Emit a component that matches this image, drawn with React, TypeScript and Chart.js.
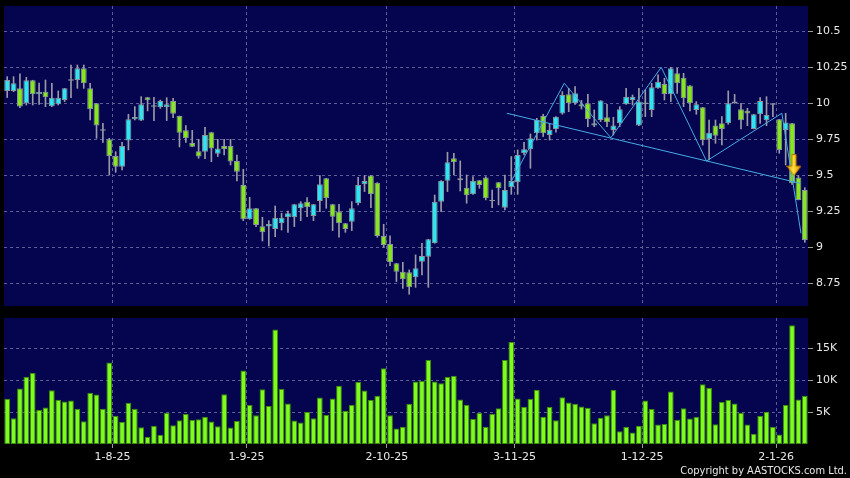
import React, { useEffect, useRef } from 'react';
import { Chart, registerables } from 'chart.js';

Chart.register(...registerables);

// ---------- data ----------
const CANDLE_OPEN = [
  10.086, 10.086, 10.104, 10.0, 10.16, 10.062, 10.081, 9.979, 9.993, 10.023,
  10.162, 10.162, 10.243, 10.104, 10.0, 9.815, 9.75, 9.634, 9.56, 9.741,
  9.889, 9.88, 10.042, 9.981, 9.972, 9.972, 10.016, 9.912, 9.812, 9.725,
  9.667, 9.664, 9.799, 9.65, 9.704, 9.704, 9.6, 9.433, 9.194, 9.271,
  9.146, 9.144, 9.127, 9.167, 9.208, 9.208, 9.271, 9.317, 9.218, 9.322,
  9.479, 9.299, 9.248, 9.167, 9.178, 9.306, 9.438, 9.498, 9.449, 9.079,
  9.023, 8.889, 8.831, 8.826, 8.792, 8.9, 8.935, 9.028, 9.317, 9.463,
  9.618, 9.465, 9.414, 9.368, 9.465, 9.484, 9.326, 9.451, 9.275, 9.417,
  9.451, 9.653, 9.681, 9.792, 9.912, 9.78, 9.822, 9.93, 10.062, 10.0,
  9.993, 10.0, 9.845, 9.884, 9.903, 9.815, 9.861, 9.993, 10.023, 9.845,
  10.0, 9.954, 10.104, 10.134, 10.062, 10.208, 10.178, 10.123, 9.954, 9.972,
  9.752, 9.845, 9.861, 9.861, 10.0, 9.958, 9.949, 9.822, 9.924, 9.882,
  9.995, 9.889, 9.815, 9.861, 9.484, 9.398,
];
const CANDLE_HIGH = [
  10.185, 10.185, 10.204, 10.18, 10.16, 10.141, 10.162, 10.139, 10.086, 10.104,
  10.266, 10.266, 10.266, 10.139, 10.0, 9.861, 9.757, 9.664, 9.729, 9.924,
  9.977, 10.046, 10.042, 10.042, 10.023, 10.039, 10.035, 9.912, 9.845, 9.812,
  9.75, 9.833, 9.799, 9.75, 9.75, 9.75, 9.641, 9.542, 9.347, 9.271,
  9.208, 9.185, 9.287, 9.236, 9.252, 9.299, 9.317, 9.345, 9.299, 9.498,
  9.479, 9.299, 9.299, 9.167, 9.317, 9.486, 9.498, 9.498, 9.449, 9.16,
  9.079, 8.889, 8.896, 8.843, 8.947, 9.028, 9.056, 9.363, 9.463, 9.66,
  9.653, 9.6, 9.502, 9.491, 9.465, 9.491, 9.398, 9.451, 9.502, 9.63,
  9.676, 9.729, 9.787, 9.896, 9.924, 9.861, 9.907, 10.081, 10.104, 10.116,
  10.02, 10.062, 9.954, 10.019, 9.993, 9.903, 9.977, 10.104, 10.058, 10.104,
  10.093, 10.139, 10.197, 10.174, 10.25, 10.243, 10.208, 10.123, 10.012, 9.972,
  9.884, 9.884, 9.907, 10.086, 10.062, 10.0, 9.965, 9.924, 10.039, 10.046,
  9.995, 9.889, 9.93, 9.861, 9.498, 9.414,
];
const CANDLE_LOW = [
  10.04, 10.081, 9.97, 9.988, 9.988, 9.993, 9.977, 9.977, 9.988, 10.012,
  10.039, 10.104, 10.104, 9.884, 9.757, 9.729, 9.502, 9.521, 9.537, 9.676,
  9.884, 9.88, 9.947, 9.88, 9.965, 9.88, 9.9, 9.697, 9.729, 9.699,
  9.618, 9.616, 9.595, 9.63, 9.641, 9.572, 9.461, 9.185, 9.194, 9.144,
  9.044, 9.009, 9.074, 9.12, 9.104, 9.144, 9.185, 9.213, 9.185, 9.248,
  9.271, 9.116, 9.07, 9.104, 9.116, 9.294, 9.387, 9.275, 9.07, 9.0,
  8.873, 8.762, 8.715, 8.674, 8.722, 8.808, 8.722, 9.028, 9.248, 9.387,
  9.502, 9.391, 9.306, 9.368, 9.41, 9.329, 9.275, 9.294, 9.259, 9.368,
  9.368, 9.641, 9.549, 9.745, 9.769, 9.745, 9.799, 9.924, 9.942, 9.993,
  9.96, 9.838, 9.838, 9.873, 9.838, 9.78, 9.838, 9.993, 9.988, 9.845,
  9.907, 9.907, 10.104, 10.023, 10.012, 10.069, 9.977, 9.947, 9.924, 9.71,
  9.606, 9.722, 9.711, 9.854, 10.0, 9.822, 9.845, 9.822, 9.861, 9.845,
  9.907, 9.653, 9.572, 9.437, 9.329, 9.035,
];
const CANDLE_CLOSE = [
  10.162, 10.139, 9.977, 10.16, 10.062, 10.081, 10.042, 10.039, 10.039, 10.104,
  10.162, 10.243, 10.139, 9.958, 9.845, 9.815, 9.634, 9.56, 9.704, 9.889,
  9.905, 9.993, 10.021, 9.981, 10.016, 9.993, 9.928, 9.796, 9.757, 9.699,
  9.63, 9.78, 9.687, 9.687, 9.681, 9.595, 9.525, 9.194, 9.271, 9.155,
  9.104, 9.162, 9.206, 9.206, 9.236, 9.299, 9.306, 9.278, 9.299, 9.438,
  9.34, 9.213, 9.167, 9.127, 9.271, 9.433, 9.461, 9.37, 9.079, 9.016,
  8.896, 8.831, 8.778, 8.722, 8.854, 8.94, 9.056, 9.317, 9.463, 9.59,
  9.59, 9.479, 9.361, 9.463, 9.433, 9.34, 9.326, 9.41, 9.398, 9.461,
  9.641, 9.681, 9.757, 9.884, 9.792, 9.815, 9.907, 10.058, 10.0, 10.069,
  9.977, 9.891, 9.861, 10.019, 9.868, 9.845, 9.958, 10.046, 10.046, 10.012,
  10.0, 10.111, 10.15, 10.065, 10.243, 10.139, 10.035, 10.0, 9.993, 9.745,
  9.796, 9.775, 9.822, 10.0, 10.012, 9.882, 9.93, 9.924, 10.016, 9.919,
  9.995, 9.676, 9.866, 9.444, 9.329, 9.051,
];
const VOLUME_K = [
  7.06, 4.02, 8.66, 10.5, 11.1, 5.31, 5.72, 8.4, 6.9, 6.65,
  6.8, 5.52, 3.56, 8.0, 7.73, 5.52, 12.73, 4.43, 3.45, 6.44,
  5.52, 2.63, 1.08, 2.84, 1.44, 4.85, 2.94, 3.71, 4.69, 3.76,
  3.87, 4.28, 3.5, 2.78, 7.78, 2.58, 3.61, 11.5, 6.08, 4.48,
  8.56, 5.93, 17.9, 8.6, 6.34, 3.66, 3.35, 5.0, 4.02, 7.27,
  4.54, 7.11, 9.12, 5.21, 6.08, 9.69, 8.35, 6.86, 7.53, 11.86,
  4.48, 2.42, 2.68, 6.29, 9.79, 9.85, 13.14, 9.79, 9.48, 10.46,
  10.67, 6.96, 6.13, 3.92, 4.85, 2.68, 4.74, 5.57, 13.14, 15.93,
  7.11, 5.82, 7.06, 8.5, 4.28, 5.77, 3.71, 7.32, 6.49, 6.29,
  5.88, 5.67, 3.25, 4.12, 4.48, 8.5, 2.01, 2.68, 1.8, 2.84,
  6.8, 5.46, 3.04, 3.14, 8.2, 3.81, 5.57, 3.97, 4.28, 9.33,
  8.76, 3.09, 6.55, 6.86, 6.34, 4.9, 3.04, 1.6, 4.43, 5.05,
  2.68, 1.49, 6.08, 18.56, 6.96, 7.53,
];
const MONTH_LABELS = ['1-8-25', '1-9-25', '2-10-25', '3-11-25', '1-12-25', '2-1-26'];
const MONTH_FIRST_INDEX = [17, 38, 60, 80, 100, 121];
const PRICE_TICKS = [8.75, 9, 9.25, 9.5, 9.75, 10, 10.25, 10.5];
const VOLUME_TICKS = [5000, 10000, 15000];
const VOLUME_TICK_LABELS = ['5K', '10K', '15K'];
const ZIGZAG_X = [78.8, 87.3, 94.6, 102.5, 109.6, 121.4, 124.4];
const ZIGZAG_Y = [9.443, 10.139, 9.761, 10.25, 9.599, 9.931, 9.097];
const NECKLINE_X = [78.3, 124.3];
const NECKLINE_Y = [9.931, 9.444];
const ARROW_X = [123.3];
const ARROW_Y = [9.571];

// ---------- styling ----------
const N = CANDLE_OPEN.length;
const X_MIN = -0.5;
const X_MAX = N - 0.5;
const PRICE_MIN = 8.5924;
const PRICE_MAX = 10.6757;
const VOL_MAX = 19700;

const NAVY = '#04044f';
const GRID = '#5c5c98';
const TEXT = '#e8e8e8';
const TICK = '#9a9a9a';
const UP = '#30e4f2';
const DOWN = '#88e620';
const FLAT = '#a8a8a8';
const LINE = '#46ace4';
const FONT = { family: 'DejaVu Sans', size: 11 };

const areaBg = {
  id: 'areaBg',
  beforeDraw(chart: any) {
    const { ctx, chartArea: a } = chart;
    ctx.save();
    ctx.fillStyle = NAVY;
    ctx.fillRect(a.left, a.top, a.right - a.left, a.bottom - a.top);
    ctx.restore();
  },
};

function xAxis(showLabels: boolean) {
  return {
    type: 'linear',
    min: X_MIN,
    max: X_MAX,
    offset: false,
    afterBuildTicks: (s: any) => {
      s.ticks = MONTH_FIRST_INDEX.map((i) => ({ value: i - 0.5 }));
    },
    ticks: {
      display: showLabels,
      autoSkip: false,
      maxRotation: 0,
      color: TEXT,
      font: FONT,
      padding: 3,
      callback: (_v: any, idx: number) => MONTH_LABELS[idx],
    },
    grid: {
      offset: false,
      color: GRID,
      drawTicks: showLabels,
      tickLength: 4,
      tickColor: TICK,
      tickBorderDash: [],
    },
    border: { display: false, dash: [3, 3] },
    afterFit: (s: any) => {
      s.height = showLabels ? 34 : 0;
      s.paddingLeft = 0;
      s.paddingRight = 0;
    },
  };
}

function yAxis(min: number, max: number, ticks: number[], label: (v: number, i: number) => string) {
  return {
    type: 'linear',
    position: 'right',
    min,
    max,
    afterBuildTicks: (s: any) => {
      s.ticks = ticks.map((v) => ({ value: v }));
    },
    ticks: { color: TEXT, font: FONT, padding: 3, callback: (v: any, i: number) => label(v, i) },
    grid: { color: GRID, tickLength: 5, tickColor: TICK, tickBorderDash: [] },
    border: { display: false, dash: [3, 3] },
    afterFit: (s: any) => {
      s.width = 42;
      s.paddingTop = 0;
      s.paddingBottom = 0;
    },
  };
}

function makeArrow() {
  const c = document.createElement('canvas');
  c.width = 15;
  c.height = 22;
  const g = c.getContext('2d')!;
  const grad = g.createLinearGradient(0, 0, 15, 0);
  grad.addColorStop(0, '#e89a00');
  grad.addColorStop(0.45, '#ffe23a');
  grad.addColorStop(1, '#d88600');
  g.fillStyle = grad;
  g.beginPath();
  g.moveTo(5.3, 0.5);
  g.lineTo(9.7, 0.5);
  g.lineTo(9.7, 12);
  g.lineTo(14.5, 12);
  g.lineTo(7.5, 21.5);
  g.lineTo(0.5, 12);
  g.lineTo(5.3, 12);
  g.closePath();
  g.fill();
  g.strokeStyle = '#b87000';
  g.lineWidth = 1;
  g.stroke();
  return c;
}

export default function App() {
  const priceRef = useRef<HTMLCanvasElement>(null);
  const volRef = useRef<HTMLCanvasElement>(null);

  useEffect(() => {
    Chart.defaults.font.family = 'DejaVu Sans';
    const idx = CANDLE_OPEN.map((_, i) => i);
    const colors = idx.map((i) =>
      CANDLE_CLOSE[i] > CANDLE_OPEN[i] ? UP : CANDLE_CLOSE[i] < CANDLE_OPEN[i] ? DOWN : FLAT
    );
    const bodies = idx.map((i) => {
      const lo = Math.min(CANDLE_OPEN[i], CANDLE_CLOSE[i]);
      const hi = Math.max(CANDLE_OPEN[i], CANDLE_CLOSE[i]);
      const pad = hi - lo < 0.008 ? 0.005 : 0;
      return { x: i, y: [lo - pad, hi + pad] };
    });
    const wicks = idx.map((i) => ({ x: i, y: [CANDLE_LOW[i], CANDLE_HIGH[i]] }));

    const price = new Chart(priceRef.current!, {
      type: 'bar',
      data: {
        datasets: [
          {
            type: 'scatter',
            data: ARROW_X.map((x, i) => ({ x, y: ARROW_Y[i] })),
            pointStyle: makeArrow() as any,
            pointRadius: 10,
            order: -3,
          } as any,
          {
            type: 'line',
            data: NECKLINE_X.map((x, i) => ({ x, y: NECKLINE_Y[i] })),
            borderColor: LINE,
            borderWidth: 1,
            pointRadius: 0,
            order: -2,
          } as any,
          {
            type: 'line',
            data: ZIGZAG_X.map((x, i) => ({ x, y: ZIGZAG_Y[i] })),
            borderColor: LINE,
            borderWidth: 1,
            pointRadius: 0,
            order: -1,
          } as any,
          {
            type: 'bar',
            data: bodies as any,
            backgroundColor: colors,
            borderColor: '#8a969c',
            borderWidth: 1,
            borderSkipped: false,
            grouped: false,
            categoryPercentage: 1,
            barPercentage: 0.92,
            order: 0,
          } as any,
          {
            type: 'bar',
            data: wicks as any,
            backgroundColor: '#9a9aa6',
            barThickness: 1,
            grouped: false,
            order: 1,
          } as any,
        ],
      },
      options: {
        responsive: false,
        animation: false,
        events: [],
        layout: { autoPadding: false, padding: { left: 4, top: 6, right: 0, bottom: 6 } },
        plugins: { legend: { display: false }, tooltip: { enabled: false } },
        scales: {
          x: xAxis(false) as any,
          y: yAxis(PRICE_MIN, PRICE_MAX, PRICE_TICKS, (v) => String(v)) as any,
        },
      },
      plugins: [areaBg],
    });

    const volume = new Chart(volRef.current!, {
      type: 'bar',
      data: {
        datasets: [
          {
            data: idx.map((i) => ({ x: i, y: VOLUME_K[i] * 1000 })) as any,
            backgroundColor: '#7efc1c',
            borderColor: '#3f8c06',
            borderWidth: 1,
            borderSkipped: false,
            categoryPercentage: 1,
            barPercentage: 0.9,
          },
        ],
      },
      options: {
        responsive: false,
        animation: false,
        events: [],
        layout: { autoPadding: false, padding: { left: 4, top: 6, right: 0, bottom: 0 } },
        plugins: { legend: { display: false }, tooltip: { enabled: false } },
        scales: {
          x: xAxis(true) as any,
          y: yAxis(0, VOL_MAX, VOLUME_TICKS, (_v, i) => VOLUME_TICK_LABELS[i]) as any,
        },
      },
      plugins: [areaBg],
    });

    return () => {
      price.destroy();
      volume.destroy();
    };
  }, []);

  return (
    <div
      style={{
        position: 'absolute',
        left: 0,
        top: 0,
        width: 850,
        height: 478,
        background: '#000',
        overflow: 'hidden',
      }}
    >
      <canvas
        ref={priceRef}
        width={850}
        height={312}
        style={{ position: 'absolute', left: 0, top: 0, width: 850, height: 312 }}
      />
      <canvas
        ref={volRef}
        width={850}
        height={166}
        style={{ position: 'absolute', left: 0, top: 312, width: 850, height: 166 }}
      />
      <div
        style={{
          position: 'absolute',
          right: 3,
          top: 463,
          fontFamily: "'DejaVu Sans Condensed', 'DejaVu Sans', sans-serif",
          fontStretch: 'condensed',
          fontSize: 11,
          lineHeight: '16px',
          color: TEXT,
          whiteSpace: 'nowrap',
        }}
      >
        Copyright by AASTOCKS.com Ltd.
      </div>
    </div>
  );
}
